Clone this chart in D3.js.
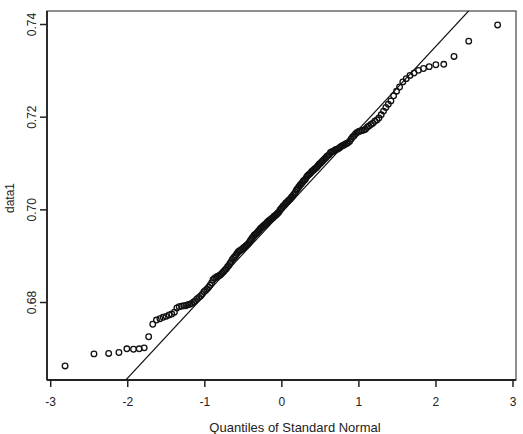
<!DOCTYPE html>
<html>
<head>
<meta charset="utf-8">
<script src="https://cdn.jsdelivr.net/npm/d3@7"></script>
<style>
  html, body { margin: 0; padding: 0; background: #fff; }
  svg { display: block; font-family: "Liberation Sans", Arial, sans-serif; }
</style>
</head>
<body>
<svg id="chart" width="523" height="434"></svg>
<script>
// Theoretical standard-normal quantiles (x) for the 200 sorted observations
const quantiles = [
-2.807,-2.432,-2.241,-2.108,-2.005,-1.919,-1.845,-1.780,-1.722,-1.669,
-1.621,-1.576,-1.534,-1.495,-1.457,-1.422,-1.388,-1.356,-1.326,-1.296,
-1.267,-1.240,-1.213,-1.188,-1.163,-1.138,-1.115,-1.092,-1.069,-1.047,
-1.026,-1.005,-0.984,-0.964,-0.944,-0.925,-0.906,-0.887,-0.868,-0.850,
-0.832,-0.815,-0.798,-0.781,-0.764,-0.747,-0.731,-0.714,-0.698,-0.682,
-0.667,-0.651,-0.636,-0.620,-0.605,-0.590,-0.575,-0.561,-0.546,-0.532,
-0.517,-0.503,-0.489,-0.475,-0.461,-0.447,-0.433,-0.419,-0.405,-0.392,
-0.378,-0.365,-0.352,-0.338,-0.325,-0.312,-0.299,-0.286,-0.273,-0.260,
-0.247,-0.234,-0.221,-0.208,-0.196,-0.183,-0.170,-0.157,-0.145,-0.132,
-0.119,-0.107,-0.094,-0.082,-0.069,-0.056,-0.044,-0.031,-0.019,-0.006,
0.006,0.019,0.031,0.044,0.056,0.069,0.082,0.094,0.107,0.119,
0.132,0.145,0.157,0.170,0.183,0.196,0.208,0.221,0.234,0.247,
0.260,0.273,0.286,0.299,0.312,0.325,0.338,0.352,0.365,0.378,
0.392,0.405,0.419,0.433,0.447,0.461,0.475,0.489,0.503,0.517,
0.532,0.546,0.561,0.575,0.590,0.605,0.620,0.636,0.651,0.667,
0.682,0.698,0.714,0.731,0.747,0.764,0.781,0.798,0.815,0.832,
0.850,0.868,0.887,0.906,0.925,0.944,0.964,0.984,1.005,1.026,
1.047,1.069,1.092,1.115,1.138,1.163,1.188,1.213,1.240,1.267,
1.296,1.326,1.356,1.388,1.422,1.457,1.495,1.534,1.576,1.621,
1.669,1.722,1.780,1.845,1.919,2.005,2.108,2.241,2.432,2.807
];

// Sorted sample values (data1)
const data1 = [
0.6662,0.6688,0.6689,0.6691,0.6699,0.6698,0.6699,0.6701,0.6725,0.6752,
0.6761,0.6764,0.6767,0.6769,0.6772,0.6774,0.6778,0.6787,0.6790,0.6791,
0.6792,0.6792,0.6794,0.6795,0.6797,0.6800,0.6803,0.6807,0.6810,0.6813,
0.6817,0.6822,0.6825,0.6828,0.6832,0.6836,0.6841,0.6848,0.6851,0.6853,
0.6855,0.6856,0.6858,0.6860,0.6863,0.6866,0.6869,0.6872,0.6876,0.6879,
0.6883,0.6887,0.6892,0.6895,0.6898,0.6901,0.6905,0.6908,0.6910,0.6911,
0.6913,0.6915,0.6917,0.6919,0.6921,0.6923,0.6925,0.6928,0.6932,0.6935,
0.6938,0.6941,0.6944,0.6946,0.6948,0.6950,0.6953,0.6955,0.6958,0.6960,
0.6962,0.6964,0.6966,0.6968,0.6969,0.6972,0.6974,0.6976,0.6977,0.6979,
0.6981,0.6982,0.6985,0.6986,0.6988,0.6990,0.6992,0.6994,0.6998,0.7001,
0.7003,0.7006,0.7008,0.7010,0.7013,0.7015,0.7017,0.7019,0.7021,0.7023,
0.7026,0.7028,0.7031,0.7034,0.7037,0.7042,0.7044,0.7047,0.7050,0.7053,
0.7055,0.7058,0.7061,0.7063,0.7065,0.7069,0.7072,0.7074,0.7076,0.7078,
0.7081,0.7083,0.7085,0.7087,0.7089,0.7091,0.7094,0.7097,0.7099,0.7101,
0.7104,0.7106,0.7109,0.7111,0.7114,0.7116,0.7118,0.7122,0.7124,0.7125,
0.7126,0.7128,0.7129,0.7130,0.7132,0.7134,0.7136,0.7138,0.7139,0.7141,
0.7142,0.7144,0.7147,0.7152,0.7156,0.7159,0.7163,0.7166,0.7168,0.7169,
0.7170,0.7171,0.7173,0.7177,0.7180,0.7183,0.7186,0.7190,0.7193,0.7197,
0.7204,0.7212,0.7220,0.7227,0.7234,0.7245,0.7255,0.7264,0.7275,0.7282,
0.7289,0.7294,0.7300,0.7304,0.7308,0.7312,0.7313,0.7330,0.7363,0.7398
];

// Reference line (qqline)
const lineIntercept = 0.6993;
const lineSlope = 0.0179;

const xTicks = [-3, -2, -1, 0, 1, 2, 3];
const yTicks = [0.68, 0.70, 0.72, 0.74];
const xTitle = "Quantiles of Standard Normal";
const yTitle = "data1";

const svg = d3.select("#chart");
const frame = { left: 47, right: 516, top: 11, bottom: 380 };

const x = d3.scaleLinear().domain([-3, 3]).range([50.2, 512.5]);
const y = d3.scaleLinear().domain([0.68, 0.74]).range([302, 24]);

svg.append("defs").append("clipPath").attr("id", "plotclip")
  .append("rect")
  .attr("x", frame.left).attr("y", frame.top)
  .attr("width", frame.right - frame.left)
  .attr("height", frame.bottom - frame.top);

// Frame
svg.append("rect")
  .attr("x", frame.left).attr("y", frame.top)
  .attr("width", frame.right - frame.left)
  .attr("height", frame.bottom - frame.top)
  .attr("fill", "none").attr("stroke", "#444").attr("stroke-width", 1.2);

// X axis
const xAxis = svg.append("g")
  .attr("transform", `translate(0,${frame.bottom})`)
  .call(d3.axisBottom(x).tickValues(xTicks).tickSize(7).tickPadding(10)
        .tickFormat(d3.format("d")));
xAxis.select(".domain").attr("stroke", "#222").attr("stroke-width", 1.8)
  .attr("d", `M${frame.left},0H${frame.right}`);
xAxis.selectAll(".tick line").attr("stroke", "#222").attr("stroke-width", 1.5);
xAxis.selectAll(".tick text").attr("fill", "#222")
  .style("font-size", "12px").style("font-family", '"Liberation Sans", Arial, sans-serif')
  .text(d => d < 0 ? "-" + Math.abs(d) : String(d));

// Y axis
const yAxis = svg.append("g")
  .attr("transform", `translate(${frame.left},0)`)
  .call(d3.axisLeft(y).tickValues(yTicks).tickSize(7).tickPadding(8)
        .tickFormat(d3.format(".2f")));
yAxis.select(".domain").attr("stroke", "#222").attr("stroke-width", 1.8)
  .attr("d", `M0,${frame.top}V${frame.bottom}`);
yAxis.selectAll(".tick line").attr("stroke", "#222").attr("stroke-width", 1.5);
yAxis.selectAll(".tick text")
  .attr("fill", "#222")
  .style("font-size", "12px").style("font-family", '"Liberation Sans", Arial, sans-serif')
  .attr("x", null).attr("dy", null)
  .attr("text-anchor", "middle")
  .attr("transform", "translate(-11,0) rotate(-90)")
  .attr("dy", "0em");

// Titles
svg.append("text")
  .attr("x", 295).attr("y", 432)
  .attr("text-anchor", "middle")
  .attr("fill", "#222")
  .style("font-size", "13px")
  .text(xTitle);

svg.append("text")
  .attr("transform", `translate(14,198) rotate(-90)`)
  .attr("text-anchor", "middle")
  .attr("fill", "#222")
  .style("font-size", "12px")
  .text(yTitle);

const plot = svg.append("g").attr("clip-path", "url(#plotclip)");

// Reference line
plot.append("line")
  .attr("x1", x(-3)).attr("y1", y(lineIntercept + lineSlope * -3))
  .attr("x2", x(3)).attr("y2", y(lineIntercept + lineSlope * 3))
  .attr("stroke", "#111").attr("stroke-width", 1.2);

// Points
const pts = quantiles.map((q, i) => ({ q, v: data1[i] }));
plot.selectAll("circle.pt").data(pts).enter().append("circle")
  .attr("class", "pt")
  .attr("cx", d => x(d.q)).attr("cy", d => y(d.v))
  .attr("r", 2.8)
  .attr("fill", "none").attr("stroke", "#111").attr("stroke-width", 1.3);
</script>
</body>
</html>
